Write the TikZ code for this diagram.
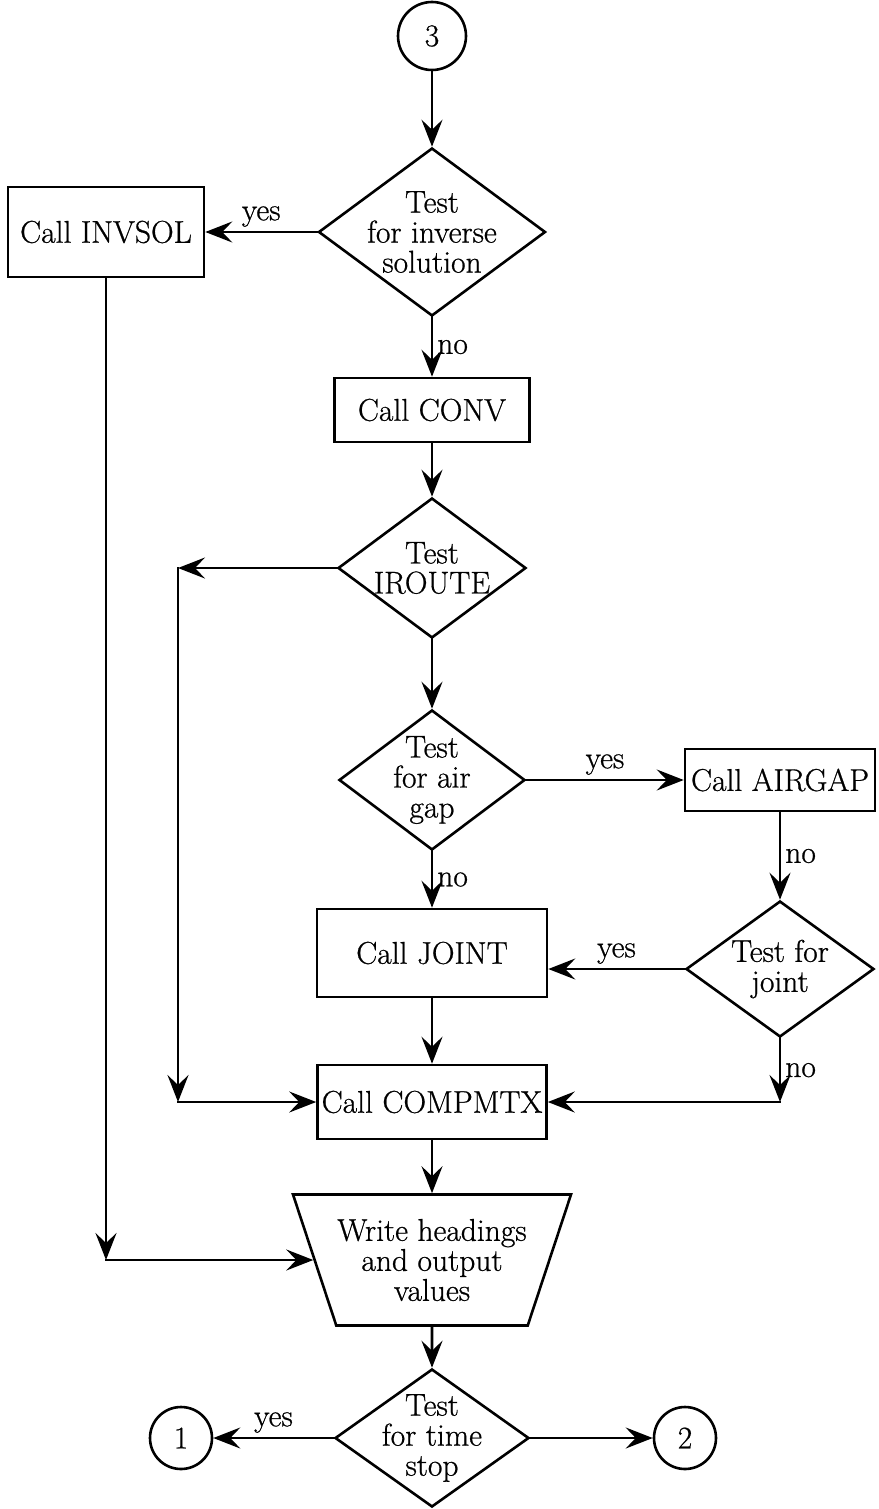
\documentclass[tikz,border=0pt]{standalone}
\usepackage{fontspec}
\newfontfamily\flowfont{Latin Modern Roman}[FakeBold=0.7]
\usetikzlibrary{arrows.meta,shapes.geometric}

\begin{document}
\begin{tikzpicture}[
    x=1pt, y=-1pt,
    line width=2.6pt,
    font=\flowfont\fontsize{31.5}{30}\selectfont,
    process/.style={draw, inner sep=0pt},
    decision/.style={diamond, draw, inner sep=0pt},
    io/.style={trapezium, draw, inner xsep=0pt, inner ysep=24pt, align=center, shape border rotate=180,
      trapezium left angle=71.6, trapezium right angle=71.6, trapezium stretches body},
    connector/.style={circle, draw, inner sep=0pt},
    flow/.style={line cap=rect, -{Stealth[length=27pt, width=21pt, inset=10pt]}},
    answer/.style={inner sep=4pt}
  ]
  \useasboundingbox (0,0) rectangle (878,1509);
  \def\mx{432}
  \def\rx{780}
  % boxes, tests and connectors
  \node[connector, minimum size=68pt] (three) at (\mx,36) {3};
  \node[decision, minimum width=227pt, minimum height=168pt,
        label={[align=center]center:Test\\for inverse\\solution}] (inverse) at (\mx,232) {};
  \node[process, minimum width=196pt, minimum height=90pt] (invsol) at (106,232) {Call INVSOL};
  \node[process, minimum width=195pt, minimum height=64pt] (conv) at (\mx,410) {Call CONV};
  \node[decision, minimum width=188pt, minimum height=140pt,
        label={[align=center]center:Test\\IROUTE}] (iroute) at (\mx,568) {};
  \node[decision, minimum width=186pt, minimum height=140pt,
        label={[align=center]center:Test\\for air\\gap}] (airgap) at (\mx,780) {};
  \node[process, minimum width=190pt, minimum height=62pt] (callairgap) at (\rx,780) {Call AIRGAP};
  \node[process, minimum width=230pt, minimum height=88pt] (joint) at (\mx,953) {Call JOINT};
  \node[decision, minimum width=188pt, minimum height=136pt,
        label={[align=center]center:Test for\\joint}] (testjoint) at (\rx,969) {};
  \node[process, minimum width=229pt, minimum height=74pt] (compmtx) at (\mx,1102) {Call COMPMTX};
  \node[io, minimum width=278pt, minimum height=131pt] (write) at (\mx,1260)
       {Write headings\\and output\\values};
  \node[decision, minimum width=194pt, minimum height=138pt,
        label={[align=center]center:Test\\for time\\stop}] (timestop) at (\mx,1438) {};
  \node[connector, minimum size=62pt] (one) at (181,1438) {1};
  \node[connector, minimum size=62pt] (two) at (685,1438) {2};

  % turning points of the side lines
  \coordinate (irturn) at (178,0 |- iroute.west);
  \coordinate (cmturn) at (178,0 |- compmtx.west);
  \coordinate (invturn) at (invsol.south |- write.west);
  \coordinate (jointturn) at (testjoint.south |- compmtx.east);

  \draw[flow] (three) -- (inverse);
  \draw[flow] (inverse.west) -- node[answer, above] (yinv) {yes} (invsol.east);
  \draw[flow] (inverse.south) -- node[answer, right] (ninv) {no} (conv.north);
  \draw[flow] (conv) -- (iroute);
  \draw[flow] (iroute.west) -- (irturn);
  \draw[flow] (irturn) -- (cmturn);
  \draw[flow] (cmturn) -- (compmtx.west);
  \draw[flow] (iroute) -- (airgap);
  \draw[flow] (airgap.east) -- node[answer, above] (yair) {yes} (callairgap.west);
  \draw[flow] (airgap.south) -- node[answer, right] (nair) {no} (joint.north);
  \draw[flow] (callairgap.south) -- node[answer, right] (ncall) {no} (testjoint.north);
  \draw[flow] (testjoint.west) -- node[answer, above] (yjoint) {yes} (joint.east |- testjoint.west);
  \draw[flow] (testjoint.south) -- node[answer, right] (njoint) {no} (jointturn);
  \draw[flow] (jointturn) -- (compmtx.east);
  \draw[flow] (joint) -- (compmtx);
  \draw[flow] (invsol.south) -- (invturn);
  \draw[flow] (invturn) -- (write.west);
  \draw[flow] (compmtx) -- (write);
  \draw[flow] (write) -- (timestop);
  \draw[flow] (timestop.west) -- node[answer, above] (ytime) {yes} (one);
  \draw[flow] (timestop.east) -- (two);
\end{tikzpicture}
\end{document}
